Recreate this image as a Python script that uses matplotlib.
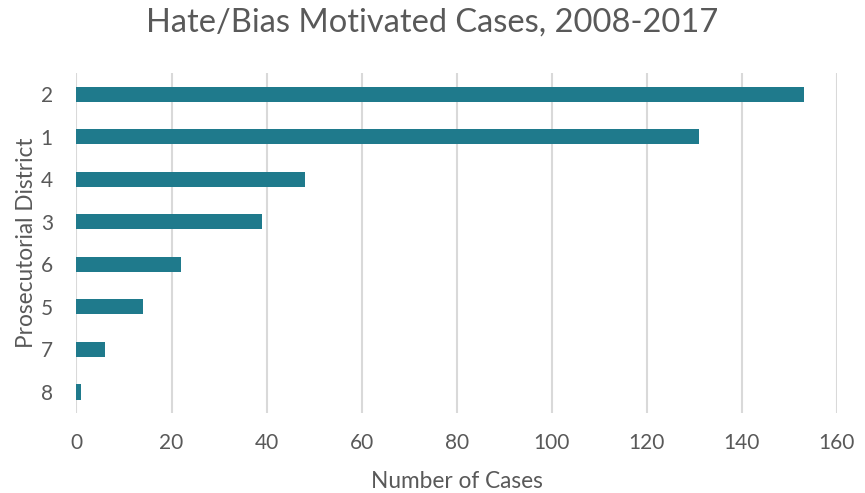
import matplotlib
matplotlib.use("Agg")
import matplotlib.pyplot as plt
import numpy as np

# data, top to bottom as in the chart
districts = ["2", "1", "4", "3", "6", "5", "7", "8"]
cases = [153, 131, 48, 39, 22, 14, 6, 1]
xticks = [0, 20, 40, 60, 80, 100, 120, 140, 160]

plt.rcParams["font.family"] = ["Lato", "DejaVu Sans"]
text_col = "#595959"

fig = plt.figure(figsize=(8.65, 4.93), dpi=100)
ax = fig.add_axes([0.0884, 0.162, 0.879, 0.690])

y = np.arange(len(districts))
ax.barh(y, cases, height=0.36, color="#1f7a8c", zorder=3)
ax.set_ylim(len(districts) - 0.5, -0.5)
ax.set_yticks(y)
ax.set_yticklabels(districts)
ax.set_xlim(0, 160)
ax.set_xticks(xticks)
ax.grid(axis="x", color="#d9d9d9", linewidth=1.5, zorder=0)
for s in ax.spines.values():
    s.set_visible(False)
ax.tick_params(length=0, labelsize=15, colors=text_col)
ax.tick_params(axis="x", pad=14)
ax.tick_params(axis="y", pad=17)

ax.set_xlabel("Number of Cases", fontsize=16.3, color=text_col, labelpad=13)
ax.set_ylabel("Prosecutorial District", fontsize=16.3, color=text_col, labelpad=3)
fig.suptitle("Hate/Bias Motivated Cases, 2008-2017", fontsize=23.5, color=text_col,
             y=0.985)

fig.savefig("out.png", dpi=100)
